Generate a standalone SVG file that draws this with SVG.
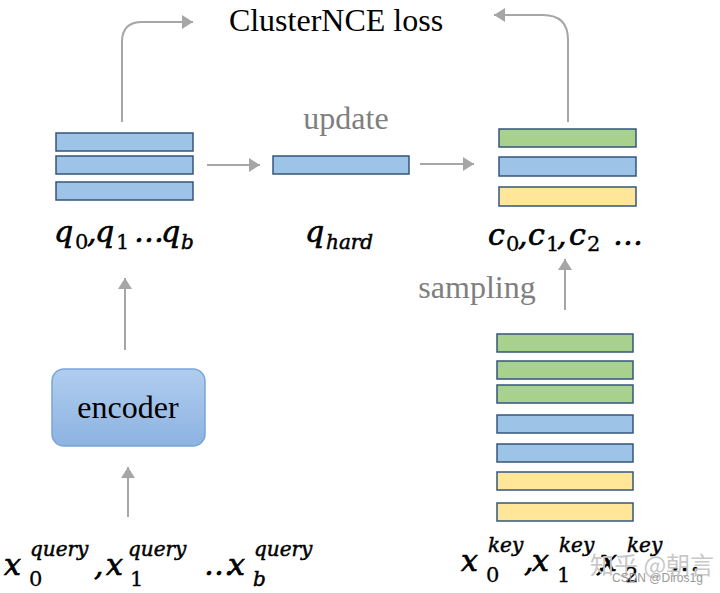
<svg xmlns="http://www.w3.org/2000/svg" width="720" height="593" viewBox="0 0 720 593">
<defs>
<marker id="ah" markerWidth="12" markerHeight="14" refX="11" refY="7" orient="auto" markerUnits="userSpaceOnUse">
<path d="M0,0 L11,7 L0,14 Z" fill="#a6a6a6"/>
</marker>
<linearGradient id="encg" x1="0" y1="0" x2="0" y2="1">
<stop offset="0" stop-color="#b0cdee"/>
<stop offset="1" stop-color="#8db3e2"/>
</linearGradient>
<style>
.conn{fill:none;stroke:#a6a6a6;stroke-width:2;marker-end:url(#ah)}
.bar{stroke:#35557d;stroke-width:1.5}
.b{fill:#9dc3e6}
.g{fill:#a9d18e}
.y{fill:#ffe699}
.serif{font-family:"Liberation Serif","Times New Roman",serif;font-size:32px}
.gray{fill:#7f7f7f}
.m{font-family:"DejaVu Serif",serif;font-style:italic;font-size:30px;fill:#000;stroke:#000;stroke-width:0.7}
.s{font-family:"DejaVu Serif",serif;font-style:italic;font-size:20px;fill:#000;stroke:#000;stroke-width:0.5}
.d{font-family:"DejaVu Serif",serif;font-size:21px;fill:#000;stroke:#000;stroke-width:0.3}
.wm{font-family:"Noto Sans CJK SC","Noto Sans",sans-serif;fill:#c8c8c8}
</style>
</defs>
<rect width="720" height="593" fill="#fff"/>

<g id="connectors">
<path class="conn" d="M122,122 V42 Q122,22 142,22 H193"/>
<path class="conn" d="M568,122 V40 Q568,15 543,15 H494"/>
<path class="conn" d="M207,165 H260"/>
<path class="conn" d="M420,164 H474"/>
<path class="conn" d="M565,310 V259"/>
<path class="conn" d="M125,350 V278"/>
<path class="conn" d="M128,517 V467"/>
</g>

<g id="title"><text class="serif" x="336" y="31" text-anchor="middle">ClusterNCE loss</text></g>
<g id="update-label"><text class="serif gray" x="346" y="129" text-anchor="middle">update</text></g>
<g id="sampling-label"><text class="serif gray" x="477" y="298" text-anchor="middle">sampling</text></g>

<g id="q-stack">
<rect class="bar b" x="56" y="133" width="137" height="18"/>
<rect class="bar b" x="56" y="156" width="137" height="18"/>
<rect class="bar b" x="56" y="182" width="137" height="18"/>
<text class="m" x="54" y="242">q</text><text class="d" x="75" y="249">0</text>
<text class="m" x="87" y="242">,</text>
<text class="m" x="95" y="242">q</text><text class="d" x="116" y="249">1</text>
<text class="m" x="134" y="242">…</text>
<text class="m" x="161" y="242">q</text><text class="s" x="181" y="249">b</text>
</g>

<g id="q-hard">
<rect class="bar b" x="273" y="156" width="136" height="18"/>
<text class="m" x="305" y="242">q</text><text class="s" x="326" y="249">hard</text>
</g>

<g id="c-stack">
<rect class="bar g" x="499" y="129" width="137" height="18"/>
<rect class="bar b" x="499" y="157" width="137" height="19"/>
<rect class="bar y" x="499" y="187" width="137" height="19"/>
<text class="m" x="488" y="245">c</text><text class="d" x="506" y="251">0</text>
<text class="m" x="518" y="245">,</text>
<text class="m" x="528" y="245">c</text><text class="d" x="546" y="251">1</text>
<text class="m" x="557" y="245">,</text>
<text class="m" x="569" y="245">c</text><text class="d" x="587" y="251">2</text>
<text class="m" x="613" y="245">…</text>
</g>

<g id="encoder">
<rect x="52" y="369" width="153" height="77" rx="12" fill="url(#encg)" stroke="#7aa5d8" stroke-width="1.5"/>
<text class="serif" x="128" y="418" text-anchor="middle">encoder</text>
</g>

<g id="key-stack">
<rect class="bar g" x="497" y="334" width="136" height="18"/>
<rect class="bar g" x="497" y="361" width="136" height="18"/>
<rect class="bar g" x="497" y="385" width="136" height="18"/>
<rect class="bar b" x="497" y="415" width="136" height="18"/>
<rect class="bar b" x="497" y="444" width="136" height="18"/>
<rect class="bar y" x="497" y="472" width="136" height="18"/>
<rect class="bar y" x="497" y="503" width="136" height="18"/>
</g>

<g id="query-label">
<text class="m" x="4" y="575">x</text><text class="d" x="29" y="586">0</text><text class="s" x="30" y="556">query</text>
<text class="m" x="94" y="575">,</text>
<text class="m" x="106" y="575">x</text><text class="d" x="130" y="586">1</text><text class="s" x="128" y="556">query</text>
<text class="m" x="204" y="575">…</text>
<text class="m" x="228" y="575">x</text><text class="s" x="253" y="586">b</text><text class="s" x="254" y="556">query</text>
</g>

<g id="key-label">
<text class="m" x="461" y="571">x</text><text class="d" x="486" y="582">0</text><text class="s" x="488" y="552">key</text>
<text class="m" x="524" y="571">,</text>
<text class="m" x="532" y="571">x</text><text class="d" x="557" y="582">1</text><text class="s" x="559" y="552">key</text>
<text class="m" x="596" y="571">,</text>
<text class="m" x="600" y="571">x</text><text class="d" x="625" y="582">2</text><text class="s" x="627" y="552">key</text>
<text class="m" x="670" y="571">…</text>
</g>

<g id="watermark">
<text class="wm" x="590" y="574" font-size="24">知乎 @朝言</text>
<text font-family="Liberation Sans,sans-serif" font-size="12" fill="#9a9a9a" x="612" y="582">CSDN @Diros1g</text>
</g>
</svg>
